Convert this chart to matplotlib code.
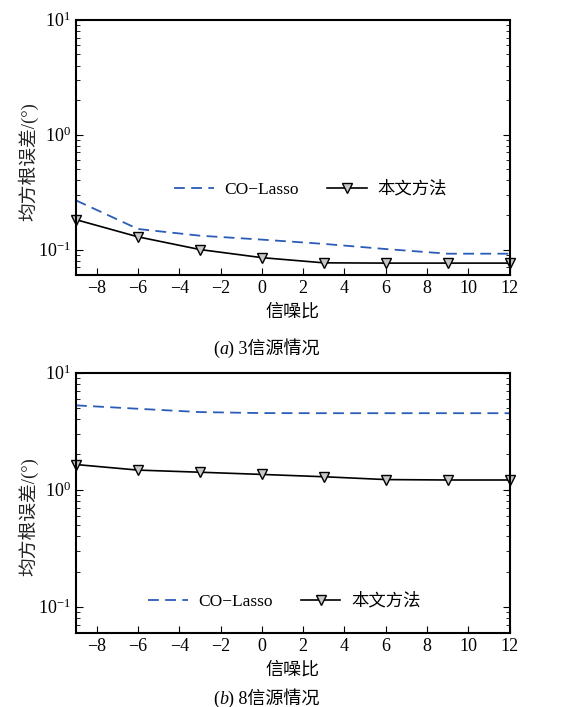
import numpy as np
import matplotlib
matplotlib.use("Agg")
import matplotlib.pyplot as plt
from matplotlib.offsetbox import TextArea, HPacker, AnchoredOffsetbox

plt.rcParams['font.family'] = ['Liberation Serif', 'Noto Sans CJK SC']
plt.rcParams['mathtext.fontset'] = 'stix'
plt.rcParams['axes.unicode_minus'] = True

snr = [-9, -6, -3, 0, 3, 6, 9, 12]

# (a) 3 sources
co_lasso_a = [0.268, 0.151, 0.132, 0.122, 0.112, 0.101, 0.092, 0.092]
ours_a = [0.182, 0.129, 0.100, 0.085, 0.0766, 0.0762, 0.0762, 0.0762]

# (b) 8 sources
co_lasso_b = [5.25, 4.91, 4.60, 4.51, 4.50, 4.50, 4.50, 4.50]
ours_b = [1.64, 1.47, 1.41, 1.35, 1.29, 1.22, 1.21, 1.21]

xticks = [-8, -6, -4, -2, 0, 2, 4, 6, 8, 10, 12]
panel_letters = ["a", "b"]
panel_texts = ["3信源情况", "8信源情况"]
ylabel = "均方根误差/(°)"
xlabel = "信噪比"
labels = ["CO−Lasso", "本文方法"]

fig = plt.figure(figsize=(5.67, 7.07), dpi=100)
ax1 = fig.add_axes([0.134, 0.611, 0.765, 0.361])
ax2 = fig.add_axes([0.134, 0.105, 0.765, 0.368])

panels = [
    (ax1, co_lasso_a, ours_a, (0.54, 0.335), 0.508),
    (ax2, co_lasso_b, ours_b, (0.48, 0.12), 0.012),
]

for i, (ax, co, ours, legpos, capy) in enumerate(panels):
    ax.semilogy(snr, co, color='#2a5cb8', lw=1.3, dashes=(6, 3.5), label=labels[0])
    ax.semilogy(snr, ours, '-', color='black', lw=1.2, marker='v', ms=7.5,
                mfc='#c8c8c8', mec='black', mew=1.0, label=labels[1], clip_on=False)
    ax.set_xlim(-9, 12)
    ax.set_ylim(0.06, 10)
    ax.set_xticks(xticks)
    ax.set_yticks([0.1, 1, 10])
    ax.tick_params(which='both', direction='in', right=True, labelsize=13)
    ax.tick_params(which='major', length=5)
    ax.tick_params(which='minor', length=3)
    for s in ax.spines.values():
        s.set_linewidth(1.5)
    ax.set_ylabel(ylabel, fontsize=13.5, color='#222222')
    ax.yaxis.set_label_coords(-0.087, 0.445)
    ax.set_xlabel(xlabel, fontsize=13, labelpad=5)
    ax.legend(loc='center', bbox_to_anchor=legpos, ncol=2, frameon=False,
              fontsize=12.5, handlelength=2.3, columnspacing=1.6, handletextpad=0.6)

    # caption "(a) 3信源情况" with italic letter
    parts = [
        TextArea("(", textprops=dict(fontsize=13)),
        TextArea(panel_letters[i], textprops=dict(fontsize=13, style='italic')),
        TextArea(") " + panel_texts[i], textprops=dict(fontsize=13)),
    ]
    box = HPacker(children=parts, align='baseline', pad=0, sep=0)
    anch = AnchoredOffsetbox(loc='center', child=box, frameon=False,
                             bbox_to_anchor=(0.47, capy), bbox_transform=fig.transFigure,
                             borderpad=0, pad=0)
    fig.add_artist(anch)

plt.savefig('out.png', dpi=100)
